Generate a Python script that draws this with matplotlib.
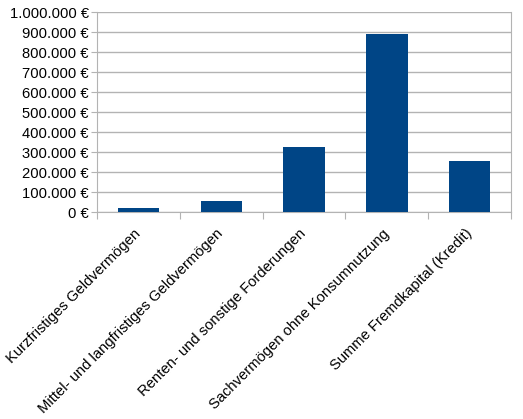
# Bar chart: Vermögensübersicht
import matplotlib.pyplot as plt
from matplotlib.ticker import FuncFormatter

plt.rcParams['font.family'] = ['Liberation Sans', 'DejaVu Sans']

categories = [
    'Kurzfristiges Geldvermögen',
    'Mittel- und langfristiges Geldvermögen',
    'Renten- und sonstige Forderungen',
    'Sachvermögen ohne Konsumnutzung',
    'Summe Fremdkapital (Kredit)',
]
values = [19000, 57000, 323000, 892000, 254000]
y_ticks = list(range(0, 1000001, 100000))

W, H = 523, 419
fig = plt.figure(figsize=(W / 100, H / 100), dpi=100)
ax = fig.add_axes([97 / W, (H - 212) / H, (511 - 97) / W, 200 / H])

x = list(range(len(categories)))
ax.bar(x, values, width=0.5, color='#004586', zorder=3)

ax.set_xlim(-0.5, len(categories) - 0.5)
ax.set_ylim(0, 1000000)
ax.set_yticks(y_ticks)
ax.yaxis.set_major_formatter(
    FuncFormatter(lambda v, p: f"{int(v):,}".replace(',', '.') + ' €'))
ax.grid(axis='y', color='#b3b3b3', linewidth=1, zorder=0)

# category ticks sit at the boundaries
ax.set_xticks([i - 0.5 for i in range(len(categories) + 1)])
ax.set_xticklabels([])
ax.set_xticks(x, minor=True)
ax.set_xticklabels(categories, minor=True, rotation=45, ha='right', va='center',
                   rotation_mode='anchor', fontsize=10.6)
ax.tick_params(axis='x', which='minor', length=0, pad=14)
ax.tick_params(axis='x', which='major', length=5, color='#b3b3b3')
ax.tick_params(axis='y', length=4, color='#b3b3b3', labelsize=10.6, pad=2)

for side in ['left', 'right', 'bottom', 'top']:
    ax.spines[side].set_color('#b3b3b3')
ax.spines['top'].set_visible(False)

plt.savefig('out.png', dpi=100)
plt.close()
